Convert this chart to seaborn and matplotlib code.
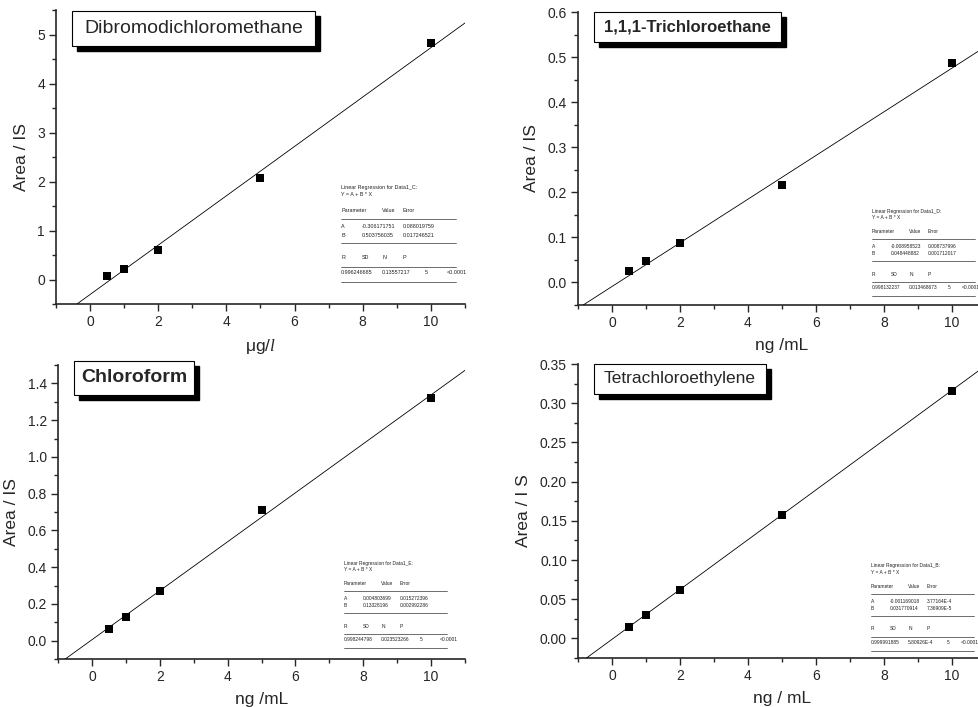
import matplotlib
matplotlib.use("Agg")
import matplotlib.pyplot as plt
from matplotlib.patches import Rectangle
from matplotlib.ticker import MultipleLocator, FormatStrFormatter
import seaborn as sns

# concentrations (same for all four compounds)
conc = [0.5, 1, 2, 5, 10]

# Area / IS responses
dibromo = [0.08, 0.22, 0.61, 2.07, 4.82]
trichloroethane = [0.025, 0.047, 0.087, 0.216, 0.487]
chloroform = [0.062, 0.13, 0.27, 0.71, 1.32]
tetrachloro = [0.015, 0.030, 0.062, 0.158, 0.316]

# regression parameters (A intercept, B slope) as printed in the tables
fit_A = [-0.306171751, -0.008958523, 0.004803699, -0.001169018]
fit_B = [0.503756035, 0.048448882, 0.13328196, 0.031770914]

names = ["Dibromodichloromethane", "1,1,1-Trichloroethane", "Chloroform", "Tetrachloroethylene"]
xlabels = ["\u03bcg/$\\it{l}$", "ng /mL", "ng /mL", "ng / mL"]
ylabels = ["Area / IS", "Area / IS", "Area / IS", "Area / I S"]

tables = [
    ["Data1_C", "-0.306171751", "0.088019759", "0.503756035", "0.017246521",
     "0.996246685", "0.13557217", "5", "<0.0001"],
    ["Data1_D", "-0.008958523", "0.008737996", "0.048448882", "0.001712017",
     "0.998132237", "0.013468673", "5", "<0.0001"],
    ["Data1_E", "0.004803699", "0.015272396", "0.13328196", "0.002992286",
     "0.998244798", "0.023523266", "5", "<0.0001"],
    ["Data1_B", "-0.001169018", "3.77164E-4", "0.031770914", "7.36909E-5",
     "0.999991885", "5.80926E-4", "5", "<0.0001"],
]

sns.set_style("ticks")
plt.rcParams["font.family"] = ["Liberation Sans", "DejaVu Sans"]
plt.rcParams["mathtext.fontset"] = "custom"
plt.rcParams["mathtext.it"] = "Liberation Serif:italic"

W, H = 979, 707
fig = plt.figure(figsize=(W / 100, H / 100), dpi=100)


def fx(x):
    return x / W


def fy(y):
    return 1 - y / H


def add_axes_px(x0, y0, x1, y1):
    return fig.add_axes([fx(x0), fy(y1), (x1 - x0) / W, (y1 - y0) / H])


def title_box(x0, y0, x1, y1, text, size, weight):
    # black drop shadow, then the white framed box on top
    fig.patches.append(Rectangle((fx(x0 + 5), fy(y1 + 5)), (x1 - x0) / W, (y1 - y0) / H,
                                 transform=fig.transFigure, facecolor="black",
                                 edgecolor="black", zorder=5))
    fig.patches.append(Rectangle((fx(x0), fy(y1)), (x1 - x0) / W, (y1 - y0) / H,
                                 transform=fig.transFigure, facecolor="white",
                                 edgecolor="black", lw=0.8, zorder=6))
    fig.text(fx((x0 + x1) / 2), fy((y0 + y1) / 2), text, fontsize=size,
             fontweight=weight, ha="center", va="center", zorder=7)


def reg_table(x0, y0, sc, pcol, t):
    fs = 3.9 * sc

    def tx(dx, dy, s):
        fig.text(fx(x0 + dx * sc), fy(y0 + dy * sc), s, fontsize=fs,
                 ha="left", va="center", color="#222222", zorder=7)

    def hl(dy):
        fig.add_artist(plt.Line2D([fx(x0), fx(x0 + 115 * sc)],
                                  [fy(y0 + dy * sc)] * 2, color="#555555",
                                  lw=0.6, transform=fig.transFigure))

    tx(0, 0, "Linear Regression for %s:" % t[0])
    tx(0, 7, "Y = A + B * X")
    tx(0, 23, "Parameter")
    tx(41, 23, "Value")
    tx(62, 23, "Error")
    hl(31)
    tx(0, 39, "A")
    tx(21, 39, t[1])
    tx(62, 39, t[2])
    tx(0, 47, "B")
    tx(21, 47, t[3])
    tx(62, 47, t[4])
    hl(55)
    tx(0, 70, "R")
    tx(21, 70, "SD")
    tx(42, 70, "N")
    tx(62, 70, "P")
    hl(79)
    tx(0, 85, t[5])
    tx(41, 85, t[6])
    tx(84, 85, t[7])
    tx(pcol, 85, t[8])
    hl(94)


panels = [
    dict(box=(56, 10, 465, 304), y=dibromo, ylim=(-0.5, 5.5), major=1, minor=0.5, fmt="%d",
         title=(72, 11, 315, 46, 14, "normal"), table=(341, 188, 1.0, 106)),
    dict(box=(578, 12, 986, 305), y=trichloroethane, ylim=(-0.05, 0.6), major=0.1, minor=0.05,
         fmt="%.1f", title=(594, 12, 781, 42, 12, "bold"), table=(872, 211, 0.9, 100)),
    dict(box=(58, 365, 465, 659), y=chloroform, ylim=(-0.1, 1.5), major=0.2, minor=0.1,
         fmt="%.1f", title=(74, 361, 194, 395, 14, "bold"), table=(344, 563, 0.9, 106)),
    dict(box=(578, 364, 986, 658), y=tetrachloro, ylim=(-0.025, 0.35), major=0.05, minor=0.025,
         fmt="%.2f", title=(594, 364, 766, 394, 12.5, "normal"), table=(871, 566, 0.9, 100)),
]

for i, p in enumerate(panels):
    ax = add_axes_px(*p["box"])
    sns.scatterplot(x=conc, y=p["y"], ax=ax, marker="s", s=34, color="black",
                    edgecolor="black", linewidth=0, zorder=4)
    ax.axline((0, fit_A[i]), slope=fit_B[i], color="black", lw=0.6, zorder=3)
    ax.set_xlim(-1, 11)
    ax.set_ylim(*p["ylim"])
    ax.xaxis.set_major_locator(MultipleLocator(2))
    ax.xaxis.set_minor_locator(MultipleLocator(1))
    ax.yaxis.set_major_locator(MultipleLocator(p["major"]))
    ax.yaxis.set_minor_locator(MultipleLocator(p["minor"]))
    ax.yaxis.set_major_formatter(FormatStrFormatter(p["fmt"]))
    ax.tick_params(which="major", direction="out", length=5, width=1, labelsize=10, pad=3)
    ax.tick_params(which="minor", direction="out", length=3, width=1)
    sns.despine(ax=ax)
    for s in ("left", "bottom"):
        ax.spines[s].set_linewidth(1.2)
    ax.set_xlabel(xlabels[i], fontsize=12.5, labelpad=6)
    ax.set_ylabel(ylabels[i], fontsize=12.5, labelpad=6)
    x0, y0, x1, y1, size, weight = p["title"]
    title_box(x0, y0, x1, y1, names[i], size, weight)
    reg_table(*p["table"], tables[i])

fig.savefig("out.png", dpi=100)
